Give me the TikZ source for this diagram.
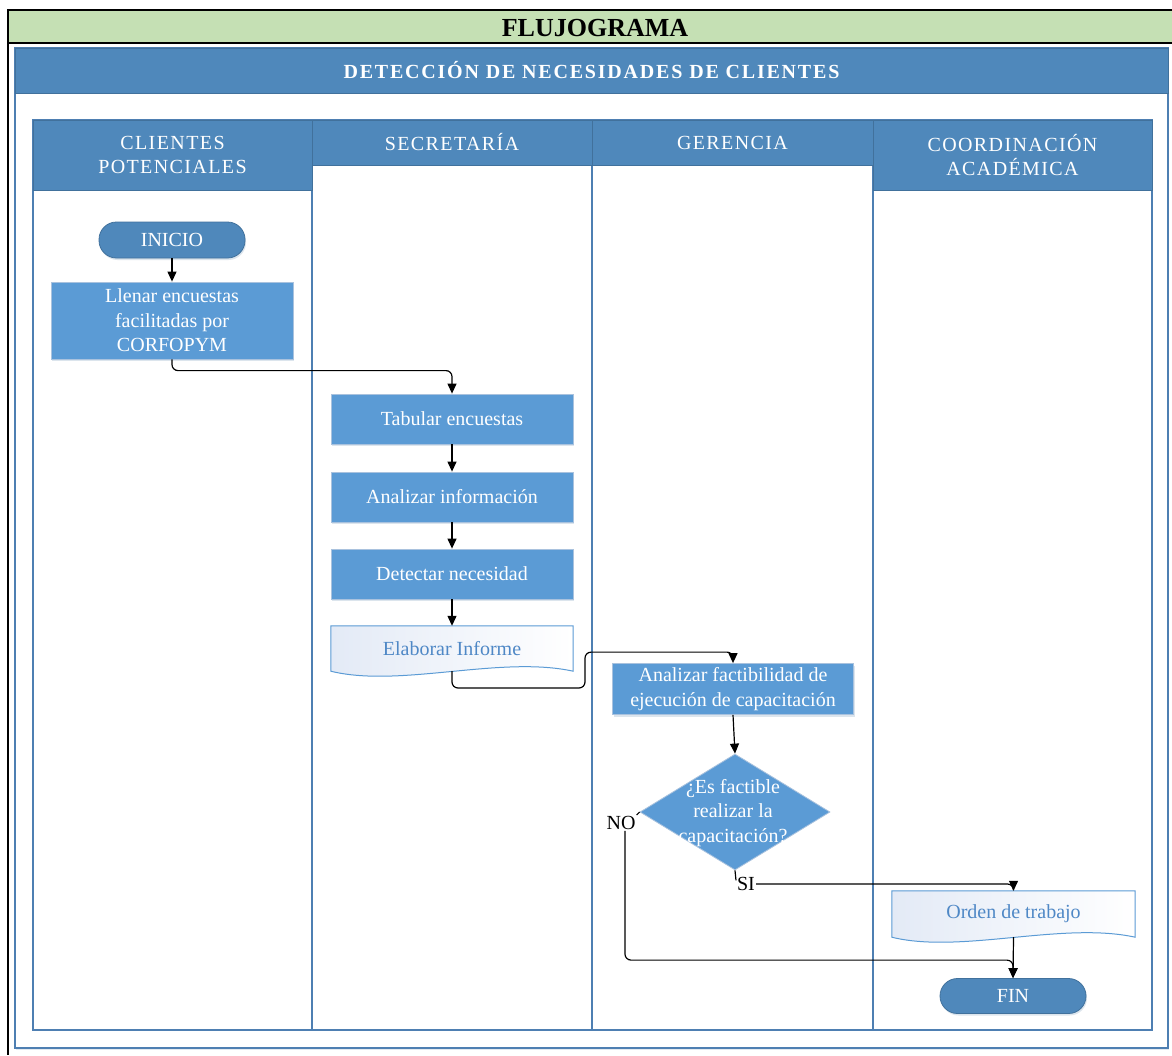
\documentclass[tikz,border=0pt]{standalone}
\usepackage{fontspec}
\setmainfont{Liberation Serif}
\newfontfamily\hdrfont[LetterSpace=7]{Liberation Serif}
\newfontfamily\bandfont[LetterSpace=9]{Liberation Serif}
\usetikzlibrary{calc,shadows,shapes.geometric,arrows.meta}

\definecolor{hdrblue}{HTML}{4F88BB}
\definecolor{hdrline}{HTML}{41719C}
\definecolor{boxblue}{HTML}{5B9BD5}
\definecolor{boxline}{HTML}{A9C2DE}
\definecolor{titlegreen}{HTML}{C5E0B4}
\definecolor{doctext}{HTML}{4F88C6}
\definecolor{docfill}{HTML}{E3EAF6}
\definecolor{laneline}{HTML}{4E7FB2}

\pgfdeclarelayer{bg}
\pgfdeclarelayer{docs}
\pgfsetlayers{bg,docs,main}

\tikzset{
  lanehead/.style={draw=hdrline, fill=hdrblue, line width=1pt, text=white,
    font=\hdrfont\fontsize{20}{24.5}\selectfont, align=center, inner sep=0},
  process/.style={fill=boxblue, draw=boxline, line width=0.8pt, text=white,
    font=\fontsize{20}{24.5}\selectfont, align=center, inner sep=0,
    minimum width=242, minimum height=50,
    drop shadow={opacity=0.18, fill=hdrline, shadow xshift=1pt, shadow yshift=-2pt}},
  terminal/.style={fill=hdrblue, draw=hdrline, line width=0.8pt, text=white,
    font=\fontsize{20}{24.5}\selectfont, inner sep=0, rounded corners=17.5pt,
    minimum width=146, minimum height=36,
    drop shadow={opacity=0.18, fill=hdrline, shadow xshift=1pt, shadow yshift=-2pt}},
  decision/.style={diamond, fill=boxblue, draw=boxline, line width=0.8pt,
    inner sep=0, minimum width=190, minimum height=116},
  doctxt/.style={text=doctext, font=\fontsize{20}{24.5}\selectfont, inner sep=0,
    minimum width=242, minimum height=45},
  docbody/.style={draw=boxblue, line width=1pt, left color=docfill, right color=white},
  conn/.style={line width=1.2pt, rounded corners=6pt,
    -{Triangle[length=10pt,width=9pt]}},
  plain/.style={line width=1.2pt},
  lbl/.style={font=\fontsize{20}{24}\selectfont, inner sep=1pt},
  lanebox/.style={draw=laneline, line width=1.4pt},
}

% wavy document outline behind a named text node
\newcommand\docshape[1]{%
  \begin{pgfonlayer}{docs}
    \path[docbody] (#1.north west) -- (#1.north east) -- (#1.south east)
      .. controls ($(#1.south east)+(-73,-16)$) and ($(#1.south west)+(69,17)$) ..
      (#1.south west) -- cycle;
  \end{pgfonlayer}}

\begin{document}
\begin{tikzpicture}[x=1pt,y=-1pt]
\useasboundingbox (0,0) rectangle (1172,1055);
\begin{pgfonlayer}{bg}
  \fill[white] (0,0) rectangle (1172,1055);
  % inner frame with its soft shadow
  \draw[lanebox, fill=white,
    drop shadow={opacity=0.15, fill=hdrline, shadow xshift=1pt, shadow yshift=-2pt}]
    (15,48) rectangle (1168,1048);
\end{pgfonlayer}

% title bar and black frame
\fill[titlegreen] (8,10) rectangle (1172,43);
\draw[line width=2pt] (1172,10) -- (8,10) -- (8,1055);
\draw[line width=2pt] (8,43) -- (1172,43);
\node[font=\bfseries\fontsize{26}{30}\selectfont] (title) at (595,28) {FLUJOGRAMA};

% process band
\node[draw=hdrline, fill=hdrblue, line width=1pt, minimum width=1153, minimum height=45,
  inner sep=0, text=white, font=\bandfont\bfseries\fontsize{20}{24}\selectfont] (band) at (591.5,70.5)
  {DETECCIÓN DE NECESIDADES DE CLIENTES};

% swimlanes
\draw[lanebox] (33,120) rectangle (312,1030);
\draw[lanebox] (312,120) rectangle (592,1030);
\draw[lanebox] (592,120) rectangle (873,1030);
\draw[lanebox] (873,120) rectangle (1152,1030);

\node[lanehead, minimum width=279, minimum height=70] (h1) at (172.5,155) {CLIENTES\\POTENCIALES};
\node[lanehead, minimum width=280, minimum height=45] (h2) at (452,142.5) {SECRETARÍA};
\node[lanehead, minimum width=281, minimum height=45] (h3) at (732.5,142.5) {GERENCIA};
\node[lanehead, minimum width=279, minimum height=70] (h4) at (1012.5,155) {COORDINACIÓN\\ACADÉMICA};

% flow nodes
\node[terminal] (inicio) at (172,240) {INICIO};
\node[process, minimum height=77] (llenar) at (172,320.5) {Llenar encuestas\\facilitadas por\\CORFOPYM};
\node[process] (tab) at (452,419) {Tabular encuestas};
\node[process] (anal) at (452,497) {Analizar información};
\node[process] (detect) at (452,574) {Detectar necesidad};
\node[doctxt] (elab) at (452,648.5) {Elaborar Informe};
\docshape{elab}
\node[process, minimum width=241, minimum height=51] (fact) at (733,689)
  {Analizar factibilidad de\\ejecución de capacitación};
\node[decision] (dia) at (735,812) {};
\node[text=white, font=\fontsize{20}{24.5}\selectfont, align=center, inner sep=0] (diatext)
  at (733,813) {¿Es factible\\realizar la\\capacitación?};
\node[doctxt, minimum width=243, minimum height=46] (orden) at (1013.5,914) {Orden de trabajo};
\docshape{orden}
\node[terminal, minimum height=35] (fin) at (1013,996) {FIN};

% branch labels
\node[lbl] (no) at (621,823) {NO};
\node[lbl] (si) at (746,884) {SI};

% connectors
\draw[conn] (inicio) -- (llenar);
\draw[conn] (llenar.south) |- ($(tab.north)+(0,-23)$) -- (tab.north);
\draw[conn] (tab) -- (anal);
\draw[conn] (anal) -- (detect);
\draw[conn] (detect) -- (elab.north);
\coordinate (bend) at (585,688);
\draw[conn] (elab.south) |- (bend) |- ($(fact.north)+(0,-11)$) -- (fact.north);
\draw[conn] (fact.south) -- (dia.north);
\draw[plain] (dia.west) -- ++(-3,3);
\draw[conn] ($(no.south)+(4,0)$) |- ($(fin.north)+(0,-18)$) -- (fin.north);
\draw[plain] (dia.south) -- ++(1,10);
\draw[conn] (si.east) -| (orden.north);
\draw[conn] (orden.south) -- (fin.north);
\end{tikzpicture}
\end{document}
